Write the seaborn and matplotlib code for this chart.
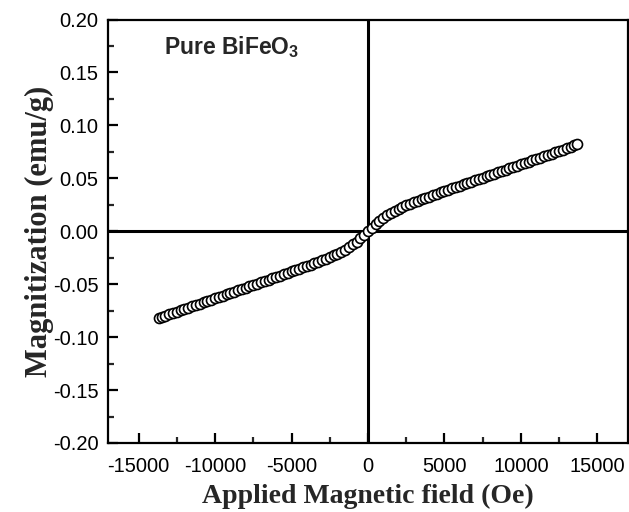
import matplotlib
matplotlib.use("Agg")
import matplotlib.pyplot as plt
import seaborn as sns
import pandas as pd
from matplotlib.ticker import MultipleLocator

# Branch A: field values (Oe) and magnetization (emu/g)
field_a = [-13500, -13000, -12500, -12000, -11500, -11000, -10500, -10000, -9500, -9000,
           -8500, -8000, -7500, -7000, -6500, -6000, -5500, -5000, -4500, -4000,
           -3500, -3000, -2500, -2000, -1500, -1000, -500, 0, 500, 1000,
           1500, 2000, 2500, 3000, 3500, 4000, 4500, 5000, 5500, 6000,
           6500, 7000, 7500, 8000, 8500, 9000, 9500, 10000, 10500, 11000,
           11500, 12000, 12500, 13000, 13500]
mag_a = [-0.0810, -0.0785, -0.0760, -0.0734, -0.0709, -0.0684, -0.0658, -0.0633, -0.0608, -0.0582,
         -0.0557, -0.0532, -0.0507, -0.0481, -0.0456, -0.0431, -0.0405, -0.0380, -0.0354, -0.0328,
         -0.0302, -0.0274, -0.0245, -0.0212, -0.0173, -0.0125, -0.0066, 0.0000, 0.0066, 0.0125,
         0.0173, 0.0212, 0.0245, 0.0274, 0.0302, 0.0328, 0.0354, 0.0380, 0.0405, 0.0431,
         0.0456, 0.0481, 0.0507, 0.0532, 0.0557, 0.0582, 0.0608, 0.0633, 0.0658, 0.0684,
         0.0709, 0.0734, 0.0760, 0.0785, 0.0810]

# Branch B: field values (Oe) and magnetization (emu/g)
field_b = [-13650, -13250, -12750, -12250, -11750, -11250, -10750, -10250, -9750, -9250,
           -8750, -8250, -7750, -7250, -6750, -6250, -5750, -5250, -4750, -4250,
           -3750, -3250, -2750, -2250, -1750, -1250, -750, -250, 250, 750,
           1250, 1750, 2250, 2750, 3250, 3750, 4250, 4750, 5250, 5750,
           6250, 6750, 7250, 7750, 8250, 8750, 9250, 9750, 10250, 10750,
           11250, 11750, 12250, 12750, 13250, 13650]
mag_b = [-0.0820, -0.0798, -0.0772, -0.0747, -0.0722, -0.0696, -0.0671, -0.0646, -0.0620, -0.0595,
         -0.0570, -0.0545, -0.0519, -0.0494, -0.0469, -0.0443, -0.0418, -0.0393, -0.0367, -0.0341,
         -0.0315, -0.0288, -0.0260, -0.0229, -0.0193, -0.0150, -0.0097, -0.0034, 0.0034, 0.0097,
         0.0150, 0.0193, 0.0229, 0.0260, 0.0288, 0.0315, 0.0341, 0.0367, 0.0393, 0.0418,
         0.0443, 0.0469, 0.0494, 0.0519, 0.0545, 0.0570, 0.0595, 0.0620, 0.0646, 0.0671,
         0.0696, 0.0722, 0.0747, 0.0772, 0.0798, 0.0820]

x_ticks = [-15000, -10000, -5000, 0, 5000, 10000, 15000]
y_ticks = [-0.20, -0.15, -0.10, -0.05, 0.00, 0.05, 0.10, 0.15, 0.20]

sns.set_style("ticks")
plt.rcParams['font.family'] = ['Liberation Sans', 'DejaVu Sans']
plt.rcParams['mathtext.default'] = 'regular'

df = pd.DataFrame({
    "H": field_a + field_b,
    "M": mag_a + mag_b,
})
df = df.sort_values("H").reset_index(drop=True)

fig = plt.figure(figsize=(6.29, 5.12), dpi=100)
ax = fig.add_axes([108 / 629, 69 / 512, 520 / 629, 423.5 / 512])

ax.axhline(0, color="black", lw=2.2, zorder=1)
ax.axvline(0, color="black", lw=2.2, zorder=1)

sns.scatterplot(data=df, x="H", y="M", ax=ax, marker="o", s=52,
                facecolor="white", edgecolor="black", linewidth=1.2,
                legend=False, zorder=3)

ax.set_xlim(-17000, 17000)
ax.set_ylim(-0.20, 0.20)
ax.set_xticks(x_ticks)
ax.set_yticks(y_ticks)
ax.set_xticklabels([str(v) for v in x_ticks])
ax.set_yticklabels([f"{v:.2f}" for v in y_ticks])
ax.xaxis.set_minor_locator(MultipleLocator(2500))
ax.yaxis.set_minor_locator(MultipleLocator(0.025))

ax.tick_params(axis="both", which="major", direction="in", length=7, width=1.6,
               labelsize=14.5, top=False, right=False, pad=7, colors="black")
ax.tick_params(axis="both", which="minor", direction="in", length=4, width=1.6,
               top=False, right=False)
ax.tick_params(axis="x", which="major", pad=10)

for sp in ax.spines.values():
    sp.set_linewidth(1.6)
    sp.set_color("black")

ax.set_xlabel("Applied Magnetic field (Oe)", fontfamily="Liberation Serif",
              fontweight="bold", fontsize=20, labelpad=6)
ax.set_ylabel("Magnitization (emu/g)", fontfamily="Liberation Serif",
              fontweight="bold", fontsize=22, labelpad=-1)

ax.text(0.107, 0.965, "Pure BiFeO$_3$", transform=ax.transAxes, fontsize=16.5,
        fontweight="bold", ha="left", va="top")

fig.savefig("out.png", dpi=100)
